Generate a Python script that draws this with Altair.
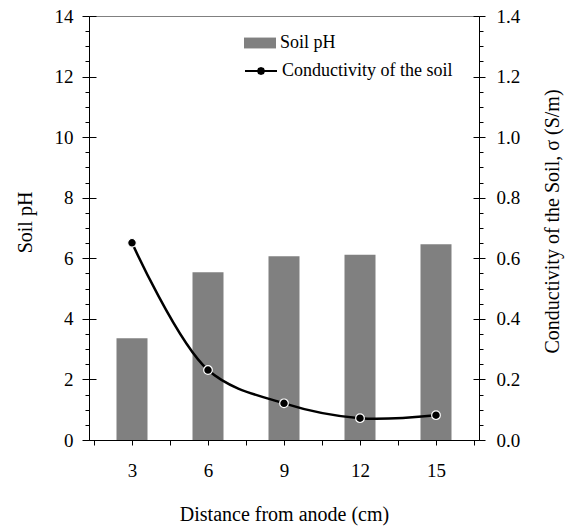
import altair as alt
import pandas as pd

# Distance from the anode (cm)
distance = [3, 6, 9, 12, 15]
# Soil pH at each distance (bars, left axis)
soil_ph = [3.36, 5.54, 6.07, 6.12, 6.46]
# Soil conductivity sigma in S/m (line, right axis)
conductivity = [0.651, 0.231, 0.121, 0.072, 0.082]

ph_label = "Soil pH"
sigma_label = "Conductivity of the soil"

W, H = 390, 424
FONT = "Liberation Serif"
GREY = "#808080"

df = pd.DataFrame({
    "d": distance,
    "ph": soil_ph,
    "sigma": conductivity,
    "bar_series": ph_label,
    "line_series": sigma_label,
})

# tick positions on both vertical axes
ph_major_vals = [float(v) for v in range(0, 15, 2)]
ph_minor_vals = [v / 2 for v in range(0, 29) if v % 4]
sig_major_vals = [v / 10 for v in range(0, 15, 2)]
sig_minor_vals = [v / 20 for v in range(0, 29) if v % 4]

x_enc = alt.X(
    "d:Q",
    scale=alt.Scale(domain=[1.5, 16.5], nice=False, zero=False),
    axis=alt.Axis(
        title="Distance from anode (cm)",
        values=[v * 1.5 for v in range(1, 12)],
        labelExpr="datum.value % 3 == 0 ? datum.label : ''",
        format="d",
        tickSize=5, labelPadding=16,
        titleX=W / 2, titleY=74, titleBaseline="middle",
    ),
)

ph_scale = alt.Scale(domain=[0, 14], nice=False)
sig_scale = alt.Scale(domain=[0, 1.4], nice=False)

ph_axis = alt.Axis(
    title="Soil pH", orient="left",
    values=ph_major_vals, format="d",
    tickSize=7, labelPadding=9,
    titleX=-64, titleY=206, titleBaseline="middle", titleAngle=270,
)
sig_axis = alt.Axis(
    title="Conductivity of the Soil, σ (S/m)", orient="right",
    values=sig_major_vals, format=".1f",
    tickSize=6, labelPadding=11,
    titleX=73, titleY=205, titleBaseline="middle", titleAngle=270,
)

# legend glyphs: a wide grey block, and a line with a dot in its middle
BAR_GLYPH = "M-1,-0.34L1,-0.34L1,0.34L-1,0.34Z"
LINE_GLYPH = ("M-1,0L1,0"
              "M0.19,0L0.134,0.134L0,0.19L-0.134,0.134L-0.19,0"
              "L-0.134,-0.134L0,-0.19L0.134,-0.134Z")

bars = alt.Chart(df).mark_bar(size=31, color=GREY).encode(
    x=x_enc,
    y=alt.Y("ph:Q", scale=ph_scale, axis=ph_axis),
    color=alt.Color(
        "bar_series:N",
        scale=alt.Scale(range=[GREY]),
        legend=alt.Legend(
            title=None, orient="none", legendX=155, legendY=11,
            symbolType=BAR_GLYPH,
            symbolSize=1024, symbolStrokeWidth=0, symbolOpacity=1,
            labelFont=FONT, labelFontSize=18, labelColor="black",
            labelOffset=4, labelLimit=0, padding=0,
        ),
    ),
)

line = alt.Chart(df).mark_line(
    color="black", strokeWidth=2.5, interpolate="catmull-rom"
).encode(
    x=x_enc,
    y=alt.Y("sigma:Q", scale=sig_scale, axis=sig_axis),
    color=alt.Color(
        "line_series:N",
        scale=alt.Scale(range=["black"]),
        legend=alt.Legend(
            title=None, orient="none", legendX=155, legendY=38,
            symbolType=LINE_GLYPH,
            symbolSize=1024, symbolStrokeWidth=2,
            symbolFillColor="black", symbolStrokeColor="black",
            labelFont=FONT, labelFontSize=18, labelColor="black",
            labelOffset=4, labelLimit=0, padding=0,
        ),
    ),
)

points = alt.Chart(df).mark_point(
    filled=True, fill="black", stroke="white", strokeWidth=1.2, size=75, opacity=1
).encode(x=x_enc, y=alt.Y("sigma:Q", scale=sig_scale, axis=None))


def tick_axis(field, scale, side, values, size, offset):
    """An extra label-free axis that only draws tick marks."""
    return alt.Chart(df).mark_point(opacity=0).encode(
        y=alt.Y(
            f"{field}:Q", scale=scale,
            axis=alt.Axis(
                orient=side, values=values, tickSize=size, offset=offset,
                labels=False, domain=False, title="", grid=False,
            ),
        )
    )


left_inner = tick_axis("ph", ph_scale, "left", ph_major_vals, 7, -7)
left_minor = tick_axis("ph", ph_scale, "left", ph_minor_vals, 4, 0)
right_inner = tick_axis("sigma", sig_scale, "right", sig_major_vals, 6, -6)
right_minor = tick_axis("sigma", sig_scale, "right", sig_minor_vals, 4, 0)

chart = (
    alt.layer(bars, line, points, left_inner, left_minor, right_inner, right_minor)
    .resolve_scale(y="independent", color="independent")
    .properties(
        width=W, height=H,
        autosize=alt.AutoSizeParams(type="none"),
        padding={"left": 89, "top": 16, "right": 89, "bottom": 86},
    )
    .configure_view(stroke=GREY, strokeWidth=1)
    .configure_axis(
        labelFont=FONT, labelFontSize=19, labelColor="black",
        titleFont=FONT, titleFontSize=20, titleColor="black", titleFontWeight="normal",
        domainColor="black", domainWidth=1, tickColor="black", tickWidth=1,
        grid=False,
    )
)

chart.save("out.html", embed_options={"renderer": "svg", "actions": False})
